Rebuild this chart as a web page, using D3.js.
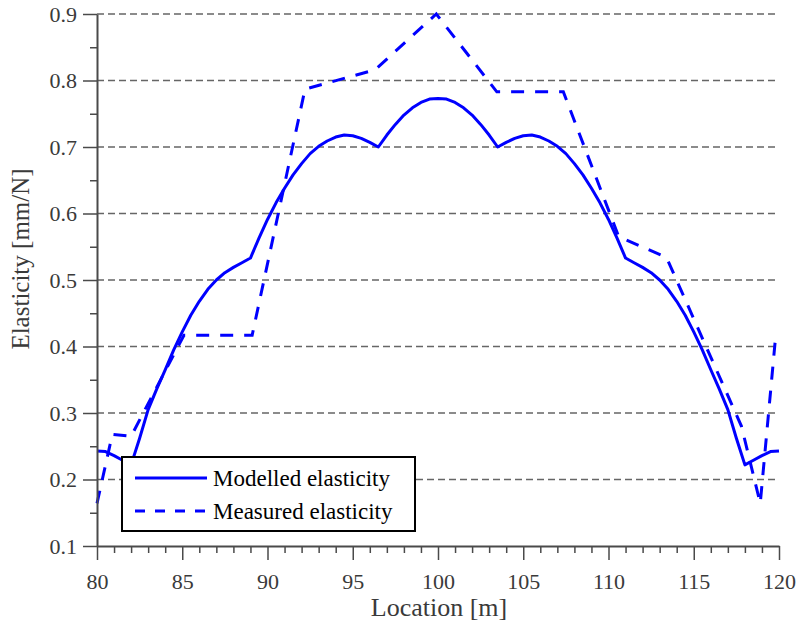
<!DOCTYPE html>
<html>
<head>
<meta charset="utf-8">
<script src="https://cdn.jsdelivr.net/npm/d3@7"></script>
<style>
  body { margin: 0; background: #fff; }
  svg text { font-family: "Liberation Serif", "Times New Roman", Times, "DejaVu Serif", serif !important; }
</style>
</head>
<body>
<svg id="chart" width="800" height="626"></svg>
<script>
// modelled elasticity (solid line)
const modelX = [80, 80.5, 81, 81.5, 82, 82.5, 83, 83.5, 84, 84.5, 85, 85.5, 86, 86.5, 87, 87.5, 88, 88.5, 89,
  89.5, 90, 90.5, 91, 91.5, 92, 92.5, 93, 93.5, 94, 94.5, 95, 95.5, 96, 96.5, 97, 97.5, 98, 98.5, 99, 99.5, 100,
  100.5, 101, 101.5, 102, 102.5, 103, 103.5, 104, 104.5, 105, 105.5, 106, 106.5, 107, 107.5, 108, 108.5, 109,
  109.5, 110, 110.5, 111, 111.5, 112, 112.5, 113, 113.5, 114, 114.5, 115, 115.5, 116, 116.5, 117, 117.5, 118,
  118.5, 119, 119.5, 120];
const modelY = [0.243, 0.242, 0.236, 0.229, 0.222, 0.262, 0.305, 0.336, 0.365, 0.395, 0.422, 0.447, 0.468, 0.486, 0.500, 0.511, 0.519, 0.526, 0.533,
  0.563, 0.591, 0.616, 0.638, 0.658, 0.675, 0.690, 0.701, 0.709, 0.715, 0.718, 0.717, 0.713, 0.707, 0.700, 0.718, 0.734, 0.748, 0.759, 0.767, 0.772, 0.773,
  0.772, 0.767, 0.759, 0.748, 0.734, 0.718, 0.700, 0.707, 0.713, 0.717, 0.718, 0.715, 0.709, 0.701, 0.690, 0.675, 0.658, 0.638,
  0.616, 0.591, 0.563, 0.533, 0.526, 0.519, 0.511, 0.500, 0.486, 0.468, 0.447, 0.422, 0.395, 0.365, 0.336, 0.305, 0.262, 0.222,
  0.229, 0.236, 0.242, 0.243];

// measured elasticity (dashed line)
const measX = [80, 80.9, 82, 85.1, 89.1, 92.2, 96.3, 99.9, 103.45, 107.35, 110.6, 113.4, 117.8, 118.9, 119.82];
const measY = [0.164, 0.268, 0.265, 0.417, 0.417, 0.787, 0.816, 0.9, 0.783, 0.783, 0.565, 0.534, 0.28, 0.164, 0.42];

const xTicks = [80, 85, 90, 95, 100, 105, 110, 115, 120];
const yTicks = [0.1, 0.2, 0.3, 0.4, 0.5, 0.6, 0.7, 0.8, 0.9];
const legendLabels = ["Modelled elasticity", "Measured elasticity"];

const svg = d3.select("#chart");
const plotLeft = 97, plotRight = 779, plotTop = 14, plotBottom = 546;

const x = d3.scaleLinear().domain([80, 120]).range([plotLeft, plotRight]);
const y = d3.scaleLinear().domain([0.1, 0.9]).range([plotBottom, plotTop]);

const axisColor = "#4a4a4a";

// horizontal grid
svg.append("g")
  .selectAll("line")
  .data(yTicks.slice(1))
  .join("line")
    .attr("x1", plotLeft).attr("x2", plotRight)
    .attr("y1", d => y(d)).attr("y2", d => y(d))
    .attr("stroke", "#666")
    .attr("stroke-width", 1.5)
    .attr("stroke-dasharray", "7,4");

const line = d3.line().x(d => x(d[0])).y(d => y(d[1]));

svg.append("path")
  .datum(d3.zip(modelX, modelY))
  .attr("fill", "none")
  .attr("stroke", "#0000ff")
  .attr("stroke-width", 3)
  .attr("stroke-linejoin", "round")
  .attr("d", line);

svg.append("path")
  .datum(d3.zip(measX, measY))
  .attr("fill", "none")
  .attr("stroke", "#0000ff")
  .attr("stroke-width", 3)
  .attr("stroke-dasharray", "13,11")
  .attr("d", line);

// minor ticks
const minorX = d3.range(81, 120).filter(v => v % 5 !== 0);
const minorY = d3.range(0.15, 0.9, 0.1);

svg.append("g")
  .attr("transform", `translate(0,${plotBottom})`)
  .call(d3.axisBottom(x).tickValues(minorX).tickSize(7).tickFormat(""))
  .call(g => g.select(".domain").remove())
  .selectAll("line").attr("stroke", axisColor).attr("stroke-width", 1.5);

svg.append("g")
  .attr("transform", `translate(${plotLeft},0)`)
  .call(d3.axisLeft(y).tickValues(minorY).tickSize(7).tickFormat(""))
  .call(g => g.select(".domain").remove())
  .selectAll("line").attr("stroke", axisColor).attr("stroke-width", 1.5);

// main axes
const xAxis = svg.append("g")
  .attr("transform", `translate(0,${plotBottom})`)
  .call(d3.axisBottom(x).tickValues(xTicks).tickSize(14).tickSizeOuter(0).tickPadding(13).tickFormat(d3.format("d")));

const yAxis = svg.append("g")
  .attr("transform", `translate(${plotLeft},0)`)
  .call(d3.axisLeft(y).tickValues(yTicks).tickSize(14).tickSizeOuter(0).tickPadding(6).tickFormat(d3.format(".1f")));

[xAxis, yAxis].forEach(g => {
  g.attr("font-family", null).attr("font-size", null);
  g.select(".domain").attr("stroke", axisColor).attr("stroke-width", 2);
  g.selectAll(".tick line").attr("stroke", axisColor).attr("stroke-width", 1.5);
  g.selectAll(".tick text")
    .attr("fill", "#3a3a3a")
    .style("font-size", "22px");
});

// axis titles
svg.append("text")
  .attr("x", 439).attr("y", 616)
  .attr("text-anchor", "middle")
  .attr("fill", "#3a3a3a")
  .style("font-size", "26px")
  .text("Location [m]");

svg.append("text")
  .attr("transform", "translate(29,259) rotate(-90)")
  .attr("text-anchor", "middle")
  .attr("fill", "#3a3a3a")
  .style("font-size", "25px")
  .text("Elasticity [mm/N]");

// legend
const legend = svg.append("g");
legend.append("rect")
  .attr("x", 122).attr("y", 457)
  .attr("width", 293).attr("height", 74)
  .attr("fill", "#fff")
  .attr("stroke", "#000")
  .attr("stroke-width", 2);

const rows = legend.selectAll("g.row")
  .data(legendLabels)
  .join("g")
    .attr("class", "row")
    .attr("transform", (d, i) => `translate(0,${478 + i * 33})`);

rows.append("line")
  .attr("x1", 135).attr("x2", 207)
  .attr("stroke", "#0000ff")
  .attr("stroke-width", 3)
  .attr("stroke-dasharray", (d, i) => i ? "10,10" : null);

rows.append("text")
  .attr("x", 213).attr("y", 8)
  .attr("fill", "#000")
  .style("font-size", "23px")
  .text(d => d);
</script>
</body>
</html>
